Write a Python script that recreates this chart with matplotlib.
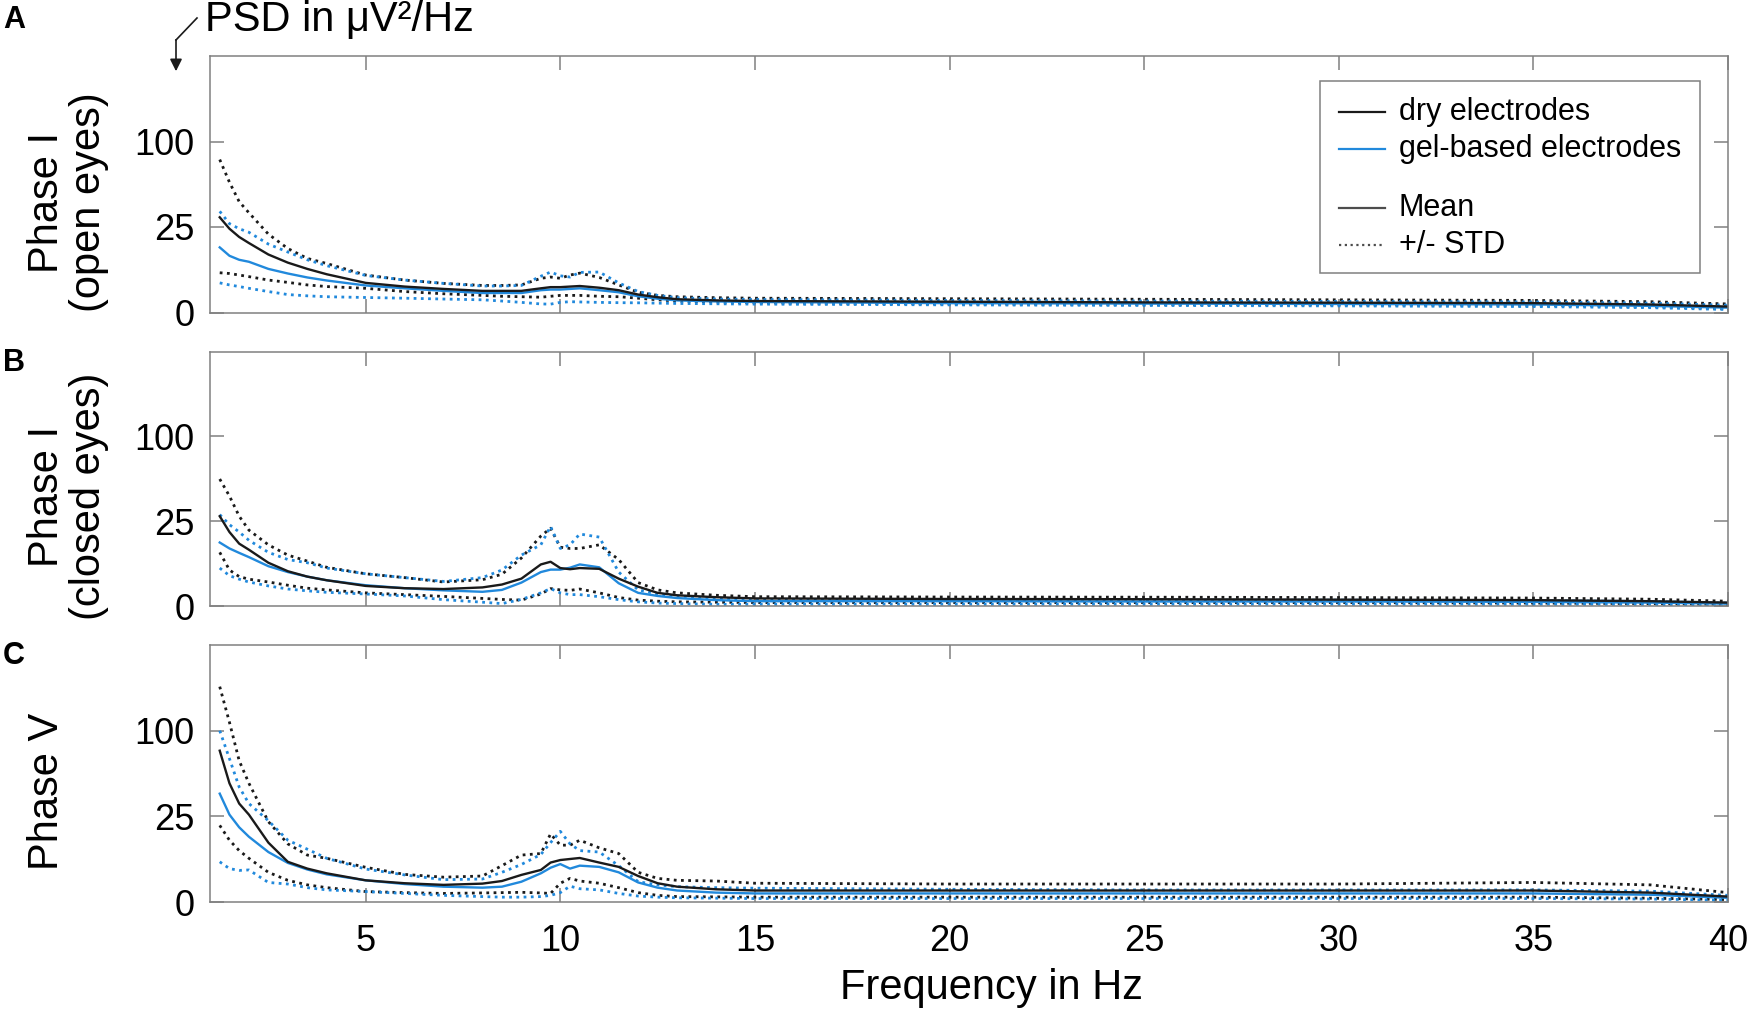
import numpy as np
import matplotlib.pyplot as plt
from matplotlib.patches import Rectangle
from matplotlib.lines import Line2D

plt.rcParams['font.family'] = ['Liberation Sans', 'DejaVu Sans']

# frequency grid in Hz
freq = [1.25, 1.5, 1.75, 2, 2.5, 3, 3.5, 4, 5, 6, 7, 8, 8.5, 9, 9.5, 9.75,
        10, 10.25, 10.5, 11, 11.5, 12, 12.5, 13, 14, 15, 20, 25, 30, 35, 38, 40]

# Panel A - Phase I (open eyes), PSD in uV^2/Hz
a_dry_mean = [31, 24, 19.5, 16.5, 11.5, 8.5, 6.5, 5.0, 3.0, 2.3, 1.9, 1.6, 1.6, 1.6, 2.0, 2.2,
              2.2, 2.3, 2.4, 2.1, 1.7, 1.1, 0.8, 0.6, 0.5, 0.45, 0.4, 0.35, 0.33, 0.3, 0.22, 0.12]
a_dry_hi = [80, 58, 42, 34, 21, 14, 10, 8.2, 4.8, 3.6, 2.9, 2.5, 2.5, 2.6, 4.0, 4.3,
            4.0, 4.8, 5.3, 4.2, 2.6, 1.4, 1.0, 0.85, 0.75, 0.7, 0.65, 0.6, 0.55, 0.5, 0.4, 0.25]
a_dry_lo = [5.4, 5.2, 4.8, 4.4, 3.6, 3.1, 2.6, 2.3, 2.0, 1.5, 1.2, 1.0, 0.9, 0.85, 0.8, 0.9,
            1.0, 1.0, 1.0, 0.9, 0.85, 0.7, 0.55, 0.45, 0.38, 0.32, 0.25, 0.22, 0.2, 0.18, 0.12, 0.05]
a_gel_mean = [14.5, 11, 9.5, 8.8, 6.5, 5.2, 4.2, 3.5, 2.5, 2.0, 1.6, 1.3, 1.3, 1.3, 1.7, 1.8,
              1.8, 1.9, 2.0, 1.7, 1.4, 0.9, 0.65, 0.5, 0.42, 0.38, 0.3, 0.27, 0.25, 0.22, 0.15, 0.08]
a_gel_hi = [35, 27, 24, 22, 16, 12.5, 9.5, 7.5, 4.7, 3.6, 2.9, 2.4, 2.4, 2.5, 4.5, 5.6,
            4.6, 4.3, 5.5, 5.6, 3.0, 1.5, 1.0, 0.75, 0.62, 0.58, 0.5, 0.45, 0.42, 0.38, 0.3, 0.18]
a_gel_lo = [3.0, 2.6, 2.3, 2.0, 1.5, 1.1, 0.95, 0.85, 0.77, 0.7, 0.62, 0.55, 0.45, 0.35, 0.25, 0.24,
            0.35, 0.4, 0.38, 0.35, 0.33, 0.32, 0.3, 0.28, 0.26, 0.24, 0.2, 0.17, 0.15, 0.12, 0.08, 0.03]

# Panel B - Phase I (closed eyes)
b_dry_mean = [28, 19, 13.5, 11, 6.5, 4.2, 3.0, 2.3, 1.4, 1.1, 1.0, 1.2, 1.6, 2.6, 6.0, 6.8,
              5.0, 4.7, 5.0, 4.8, 2.6, 1.3, 0.6, 0.4, 0.27, 0.2, 0.17, 0.16, 0.14, 0.12, 0.08, 0.04]
b_dry_hi = [56, 42, 28, 20, 13, 9, 7, 5.2, 3.6, 2.8, 2.0, 2.4, 3.5, 8, 17, 21,
            12, 11.5, 11.5, 13, 7.5, 1.9, 0.9, 0.6, 0.4, 0.3, 0.28, 0.27, 0.25, 0.22, 0.16, 0.08]
b_dry_lo = [10, 4.5, 3.0, 2.5, 2.0, 1.5, 1.1, 0.9, 0.6, 0.45, 0.32, 0.2, 0.15, 0.12, 0.5, 1.05,
            0.9, 0.85, 1.0, 0.6, 0.25, 0.12, 0.08, 0.06, 0.05, 0.04, 0.04, 0.04, 0.04, 0.03, 0.02, 0.01]
b_gel_mean = [14, 11.5, 9.8, 8.3, 5.5, 4.0, 3.0, 2.3, 1.5, 1.1, 0.85, 0.7, 0.9, 1.9, 4.0, 4.6,
              4.6, 5.1, 6.0, 5.2, 1.8, 0.6, 0.35, 0.22, 0.12, 0.08, 0.08, 0.07, 0.07, 0.06, 0.04, 0.02]
b_gel_hi = [29, 23, 19, 15, 10, 7.5, 6.5, 5, 3.6, 2.8, 2.1, 2.8, 4.5, 9, 13, 22,
            11.5, 13, 18, 16.5, 4, 0.9, 0.5, 0.35, 0.2, 0.14, 0.13, 0.12, 0.12, 0.1, 0.07, 0.03]
b_gel_lo = [5, 3.2, 2.5, 2.0, 1.4, 1.0, 0.8, 0.65, 0.5, 0.35, 0.14, 0.05, 0.02, 0.15, 0.6, 1.05,
            0.6, 0.45, 0.45, 0.3, 0.14, 0.06, 0.03, 0.02, 0.01, 0.01, 0.01, 0.01, 0.01, 0.01, 0.01, 0.0]

# Panel C - Phase V
c_dry_mean = [78, 48, 33, 26, 12, 5.5, 3.8, 2.8, 1.6, 1.2, 1.0, 1.15, 1.5, 2.5, 3.5, 5.3,
              6.0, 6.3, 6.6, 5.3, 4.2, 2.3, 1.2, 0.8, 0.55, 0.45, 0.45, 0.45, 0.45, 0.45, 0.3, 0.1]
c_dry_hi = [158, 110, 68, 48, 22, 11.5, 7.5, 6.5, 4.1, 2.6, 2.1, 2.3, 4.5, 7.5, 8, 15.8,
            11, 11, 13, 10, 8, 3, 1.9, 1.6, 1.5, 1.2, 1.1, 1.1, 1.1, 1.3, 1.0, 0.3]
c_dry_lo = [20, 13, 9, 6.5, 3, 1.6, 1.0, 0.7, 0.37, 0.3, 0.25, 0.28, 0.3, 0.32, 0.28, 0.25,
            1.2, 1.9, 1.5, 1.2, 0.7, 0.3, 0.15, 0.1, 0.09, 0.08, 0.08, 0.08, 0.08, 0.08, 0.05, 0.02]
c_gel_mean = [40, 26, 19, 14.5, 8.5, 5.2, 3.6, 2.6, 1.6, 1.1, 0.8, 0.7, 0.8, 1.4, 2.8, 4.0,
              4.9, 3.8, 4.5, 4.2, 3.0, 1.3, 0.7, 0.45, 0.3, 0.25, 0.25, 0.25, 0.25, 0.25, 0.18, 0.06]
c_gel_hi = [100, 70, 45, 33, 22.5, 13, 9.5, 6.5, 3.7, 2.5, 1.7, 1.8, 3, 4.8, 7.7, 12,
            17, 11.5, 9, 8.5, 4.5, 1.4, 1.0, 0.8, 0.7, 0.65, 0.55, 0.5, 0.5, 0.5, 0.4, 0.15]
c_gel_lo = [5.5, 3.8, 3.4, 3.5, 1.3, 1.1, 0.7, 0.5, 0.37, 0.25, 0.15, 0.1, 0.08, 0.08, 0.1, 0.15,
            0.3, 0.85, 0.6, 0.5, 0.25, 0.12, 0.08, 0.06, 0.05, 0.04, 0.04, 0.04, 0.04, 0.04, 0.03, 0.01]

ylabels = ['Phase I\n(open eyes)', 'Phase I\n(closed eyes)', 'Phase V']
letters = ['A', 'B', 'C']
xticks = [5, 10, 15, 20, 25, 30, 35, 40]
yticks = [0, 25, 100]

panels = [
    (a_dry_mean, a_dry_hi, a_dry_lo, a_gel_mean, a_gel_hi, a_gel_lo),
    (b_dry_mean, b_dry_hi, b_dry_lo, b_gel_mean, b_gel_hi, b_gel_lo),
    (c_dry_mean, c_dry_hi, c_dry_lo, c_gel_mean, c_gel_hi, c_gel_lo),
]

W, H = 1750, 1015
blue = '#2189dc'
grey = '#808080'
dots = (0, (1, 1.6))

fig = plt.figure(figsize=(W / 100, H / 100), dpi=100)

# axes boxes in pixels: (top, bottom)
boxes = [(56, 312.5), (351.5, 606), (645, 902)]
left_px, right_px = 210, 1728
letter_y = [20, 363, 656]

axes = []
for i, (top, bot) in enumerate(boxes):
    ax = fig.add_axes([left_px / W, 1 - bot / H, (right_px - left_px) / W, (bot - top) / H])
    axes.append(ax)
    dm, dh, dl, gm, gh, gl = panels[i]
    ax.plot(freq, dh, color='#1a1a1a', lw=2.0, ls=dots)
    ax.plot(freq, dl, color='#1a1a1a', lw=2.0, ls=dots)
    ax.plot(freq, gh, color=blue, lw=2.0, ls=dots)
    ax.plot(freq, gl, color=blue, lw=2.0, ls=dots)
    ax.plot(freq, gm, color=blue, lw=1.7)
    ax.plot(freq, dm, color='#1a1a1a', lw=1.7)

    ax.set_yscale('function', functions=(lambda y: np.sqrt(np.maximum(y, 0)), lambda y: np.square(y)))
    ax.set_ylim(0, 225)
    ax.set_xlim(1, 40)
    ax.set_yticks(yticks)
    ax.set_yticklabels([str(t) for t in yticks])
    ax.set_xticks(xticks)
    if i == 2:
        ax.set_xticklabels([str(t) for t in xticks])
    else:
        ax.set_xticklabels([])
    ax.minorticks_off()
    ax.tick_params(direction='in', length=10, width=1.1, color=grey, labelsize=26,
                   top=True, right=True, pad=11)
    ax.tick_params(axis='x', pad=16)
    for s in ax.spines.values():
        s.set_color(grey)
        s.set_linewidth(1.1)

    # the labels sit a little below the panel centre in the original
    cy = 1 - ((top + bot) / 2 + 18) / H
    fig.text(27 / W, cy, ylabels[i], rotation=90, ha='left', va='center',
             fontsize=30, multialignment='center', linespacing=1.05)
    fig.text(14 / W, 1 - letter_y[i] / H, letters[i], fontsize=22, fontweight='bold',
             ha='center', va='center')

# legend drawn by hand in panel A
ax = axes[0]
tr = ax.transAxes
ax.add_patch(Rectangle((0.731, 0.154), 0.2506, 0.7485, transform=tr, fill=True,
                       facecolor='white', edgecolor=grey, lw=1.1, zorder=5))
rows = [(0.782, 'dry electrodes', '#1a1a1a', '-'),
        (0.639, 'gel-based electrodes', blue, '-'),
        (0.408, 'Mean', '#4d4d4d', '-'),
        (0.264, '+/- STD', '#4d4d4d', dots)]
for yy, lab, col, ls in rows:
    ax.add_line(Line2D([0.744, 0.774], [yy, yy], transform=tr, color=col, ls=ls,
                       lw=1.6, zorder=6))
    ax.text(0.783, yy, lab, transform=tr, fontsize=22, va='center', ha='left', zorder=6)

# y unit annotation with bent arrow
fig.text(205 / W, 1 - 20 / H, 'PSD in μV²/Hz', fontsize=30, ha='left', va='center')
fig.add_artist(Line2D([197 / W, 176 / W], [1 - 18 / H, 1 - 40 / H], color='#1a1a1a', lw=1.2))
fig.add_artist(Line2D([176 / W, 176 / W], [1 - 40 / H, 1 - 62 / H], color='#1a1a1a', lw=1.2))
ax.annotate('', xy=(176 / W, 1 - 74 / H), xytext=(176 / W, 1 - 58 / H), xycoords='figure fraction',
            arrowprops=dict(arrowstyle='-|>', color='#1a1a1a', lw=1.2, mutation_scale=18))

fig.text(991 / W, 1 - 988 / H, 'Frequency in Hz', fontsize=30, ha='center', va='center')

fig.savefig('out.png', dpi=100)
